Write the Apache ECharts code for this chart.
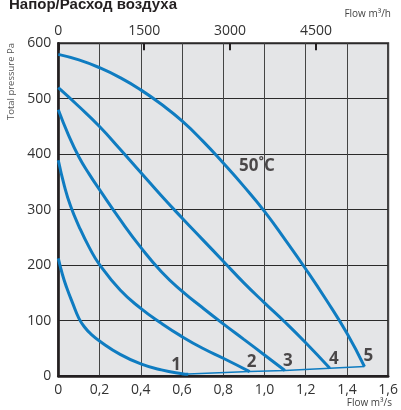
<!DOCTYPE html>
<html>
<head>
<meta charset="utf-8">
<script src="https://cdn.jsdelivr.net/npm/echarts@6/dist/echarts.min.js"></script>
<style>
html,body{margin:0;padding:0;background:#fff;}
#c{width:401px;height:410px;}
</style>
</head>
<body>
<div id="c"></div>
<script>
// ---- data (flow m3/s, total pressure Pa) ----
const curve1 = [[0,212],[0.02,183],[0.04,160],[0.07,131],[0.1,104],[0.13,87],[0.16,75],[0.2,63],[0.3,39],[0.4,22],[0.5,11],[0.6,4],[0.63,3]];
const curve2 = [[0,389],[0.03,342],[0.06,306],[0.1,270],[0.15,232],[0.2,201],[0.3,155],[0.4,122],[0.5,95],[0.6,71],[0.7,50],[0.8,32],[0.928,8]];
const curve3 = [[0,480],[0.05,434],[0.1,395],[0.15,364],[0.2,336],[0.3,282],[0.4,232],[0.5,188],[0.6,153],[0.7,123],[0.8,94],[0.9,66],[1.0,38],[1.099,10]];
const curve4 = [[0,520],[0.1,486],[0.2,450],[0.3,409],[0.4,367],[0.5,325],[0.6,285],[0.7,246],[0.8,207],[0.9,168],[1.0,132],[1.1,97],[1.2,60],[1.317,14]];
const curve5 = [[0,580],[0.1,570],[0.2,556],[0.3,538],[0.4,516],[0.5,490],[0.6,460],[0.7,424],[0.8,384],[0.9,342],[1.0,297],[1.1,246],[1.2,193],[1.3,137],[1.4,77],[1.485,17]];
const systemLine = [[0.6,3],[0.928,8],[1.099,10],[1.317,14],[1.485,17]];
const curveNames = ['1','2','3','4','5'];
const xTickLabels = ['0','0,2','0,4','0,6','0,8','1,0','1,2','1,4','1,6'];
const topTickLabels = ['0','1500','3000','4500'];
const tempLabel = '50˚C';
const tempLabelPos = [0.963, 379];
const titleText = 'Напор/Расход воздуха';
const yName = 'Total pressure Pa';
const xNameBottom = 'Flow m³/s';
const xNameTop = 'Flow m³/h';

const BLUE = '#0f7cc1';
const FONT = '"Open Sans", "Noto Sans", sans-serif';
const curves = [curve1, curve2, curve3, curve4, curve5];
const labelOffsets = [[-12,2],[2,2],[3,2],[4,2],[4,1]];

const chart = echarts.init(document.getElementById('c'), null, {renderer:'canvas'});

const series = curves.map((c, i) => ({
  type: 'line',
  name: curveNames[i],
  data: c,
  smooth: 0.5,
  showSymbol: false,
  symbol: 'none',
  lineStyle: {color: BLUE, width: 3},
  z: 3,
  silent: true
}));
series.push({
  type: 'line',
  data: systemLine,
  showSymbol: false,
  symbol: 'none',
  lineStyle: {color: BLUE, width: 1.5},
  z: 2,
  silent: true
});
series.push({
  type: 'scatter',
  data: curves.map((c, i) => ({
    value: c[c.length - 1],
    name: curveNames[i],
    label: {offset: labelOffsets[i]}
  })),
  symbol: 'circle',
  symbolSize: 1,
  itemStyle: {color: 'rgba(0,0,0,0)'},
  label: {show: true, position: 'top', distance: 2, formatter: '{b}',
    fontFamily: FONT, fontWeight: 'bold', fontSize: 17, color: '#231f20'},
  z: 5,
  silent: true
});
series.push({
  type: 'scatter',
  data: [tempLabelPos],
  symbol: 'circle',
  symbolSize: 1,
  itemStyle: {color: 'rgba(0,0,0,0)'},
  label: {show: true, position: 'inside', formatter: tempLabel,
    fontFamily: FONT, fontWeight: 'bold', fontSize: 17, color: '#231f20'},
  z: 5,
  silent: true
});

chart.setOption({
  animation: false,
  grid: {left: 58.3, right: 9.3, top: 43.3, bottom: 34, show: true,
    backgroundColor: '#e4e5e7', borderColor: '#231f20', borderWidth: 2},
  xAxis: [{
    type: 'value', position: 'bottom', min: 0, max: 1.6, interval: 0.2,
    axisLine: {show: true, lineStyle: {color: '#231f20', width: 2.5}},
    axisTick: {show: false},
    axisLabel: {margin: 7, fontFamily: FONT, fontSize: 14, color: '#333',
      formatter: v => xTickLabels[Math.round(v / 0.2)]},
    splitLine: {show: true, lineStyle: {color: '#444', width: 1}}
  }, {
    type: 'value', position: 'top', min: 0, max: 5760, interval: 1500,
    axisLine: {show: false},
    axisTick: {show: true, inside: true, length: 7, lineStyle: {color: '#231f20', width: 2}},
    axisLabel: {margin: 5, fontFamily: FONT, fontSize: 14, color: '#333', showMaxLabel: false,
      formatter: v => { const k = Math.round(v / 1500); return k < topTickLabels.length ? topTickLabels[k] : ''; }},
    splitLine: {show: false}
  }],
  yAxis: {
    type: 'value', min: 0, max: 600, interval: 100,
    axisLine: {show: true, lineStyle: {color: '#231f20', width: 2.5}},
    axisTick: {show: false},
    axisLabel: {margin: 7, fontFamily: FONT, fontSize: 14, color: '#333'},
    splitLine: {show: true, lineStyle: {color: '#2a2a2a', width: 1}}
  },
  graphic: [
    {type: 'text', left: 9, top: -3, style: {text: titleText, font: 'bold 15px "Liberation Sans", Arial, sans-serif', fill: '#231f20'}},
    {type: 'text', right: 10, top: 9, style: {text: xNameTop, font: '10px ' + FONT, fill: '#444'}},
    {type: 'text', right: 9, top: 398, style: {text: xNameBottom, font: '10px ' + FONT, fill: '#444'}},
    {type: 'text', left: 6, top: 43, rotation: Math.PI / 2, style: {text: yName, font: '9.5px ' + FONT, fill: '#555'}}
  ],
  series: series
});
</script>
</body>
</html>
